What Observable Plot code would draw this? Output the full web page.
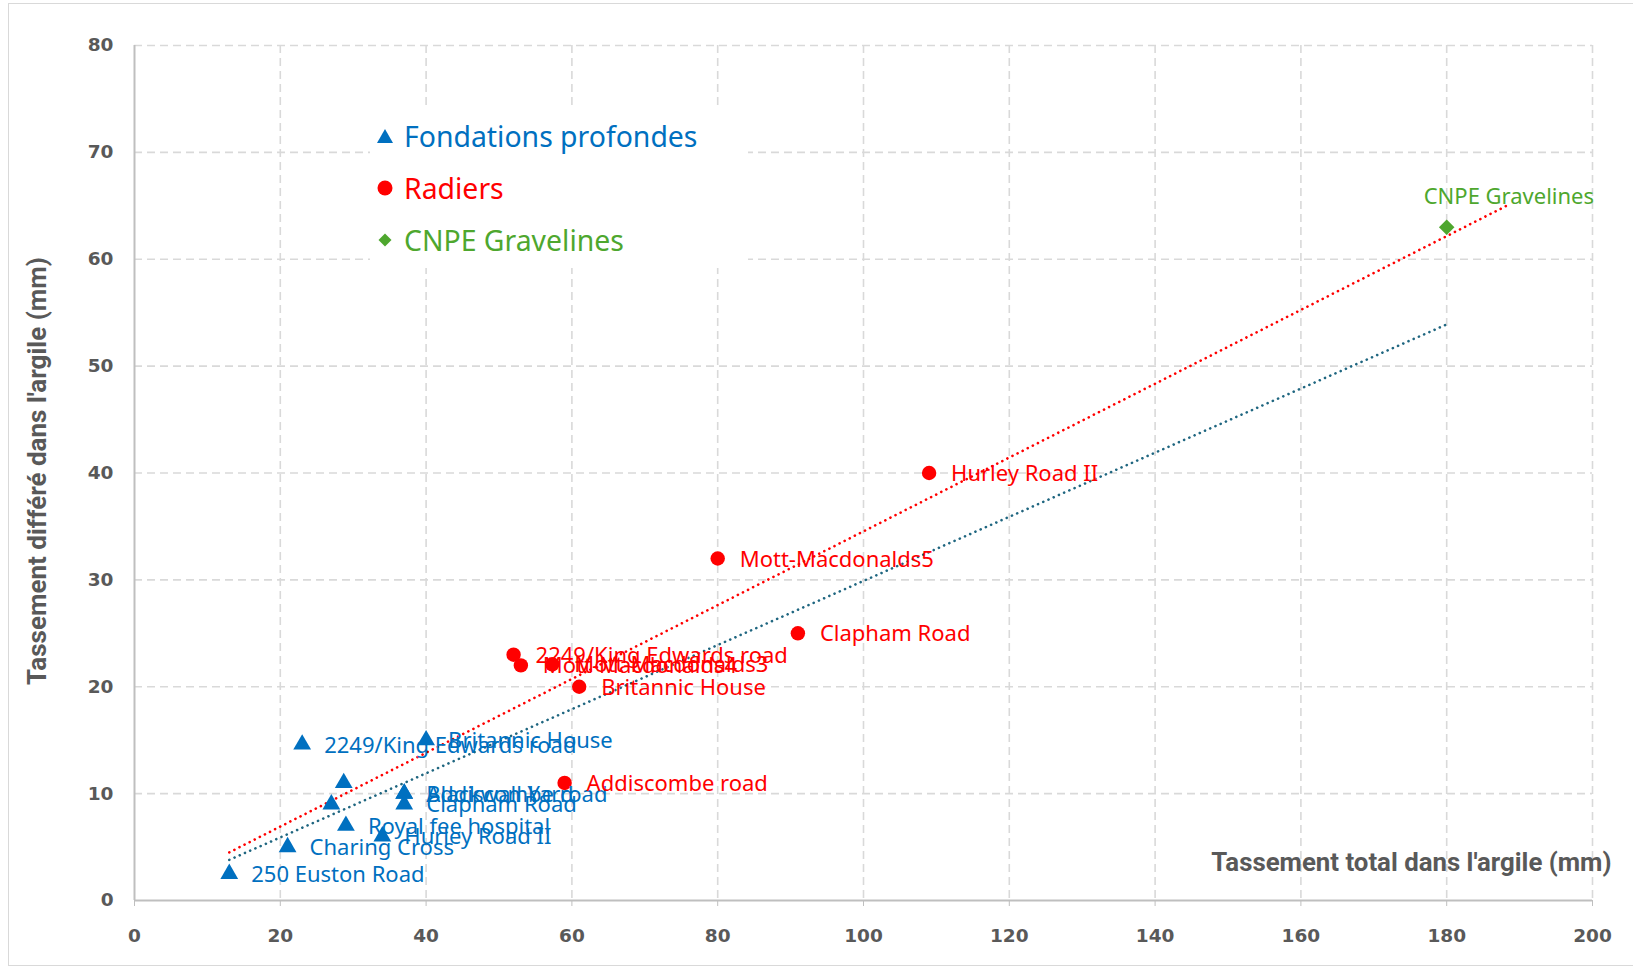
<!DOCTYPE html>
<html>
<head>
<meta charset="utf-8">
<script src="https://cdn.jsdelivr.net/npm/d3@7"></script>
<script src="https://cdn.jsdelivr.net/npm/@observablehq/plot@0.6"></script>
<style>
  body { margin: 0; background: #fff; }
  #wrap { position: relative; width: 1633px; height: 969px; overflow: hidden; background: #fff; }
  #frame { position: absolute; left: 8px; top: 3px; width: 1640px; height: 961px; border: 1px solid #d9d9d9; pointer-events: none; }
  #chart { position: absolute; left: 0; top: 0; }
  #legend { position: absolute; left: 370px; top: 110px; width: 378px; height: 158px; background: #fff;
            font-family: "Noto Sans", "Open Sans", sans-serif; font-size: 28.4px; }
  .row { position: absolute; left: 0; height: 40px; display: flex; align-items: center; white-space: nowrap; }
  .sym { width: 30px; display: flex; justify-content: center; align-items: center; }
</style>
</head>
<body>
<div id="wrap">
  <div id="chart"></div>
  <div id="legend"></div>
  <div id="frame"></div>
</div>
<script>
// ---- Data ----
const fondX = [13, 21, 29, 34, 27, 28.7, 37, 37, 37, 23, 40];
const fondY = [2.5, 5, 7, 6, 9, 11, 10, 10, 9, 14.6, 15];
const fondLabels = ["250 Euston Road", "Charing Cross", "Royal fee hospital", "Hurley Road II", "", "",
                    "Addiscombe road", "Blackwall Yard", "Clapham Road", "2249/King Edwards road", "Britannic House"];

const radX = [52, 53, 57.3, 61, 59, 80, 91, 109];
const radY = [23, 22, 22.1, 20, 11, 32, 25, 40];
const radLabels = ["2249/King Edwards road", "Mott-Macdonalds4", "Mott-Macdonalds3", "Britannic House",
                   "Addiscombe road", "Mott-Macdonalds5", "Clapham Road", "Hurley Road II"];

const gravX = [180];
const gravY = [63];
const gravLabels = ["CNPE Gravelines"];

const trendRadX = [13, 188.5];
const trendRadY = [4.5, 65.1];
const trendFondX = [13, 180];
const trendFondY = [3.8, 53.9];

const xTicks = [0, 20, 40, 60, 80, 100, 120, 140, 160, 180, 200];
const yTicks = [0, 10, 20, 30, 40, 50, 60, 70, 80];

const seriesNames = ["Fondations profondes", "Radiers", "CNPE Gravelines"];
const seriesColors = ["#0070C0", "#FF0000", "#4EA72E"];
const xTitle = "Tassement total dans l'argile (mm)";
const yTitle = "Tassement différé dans l'argile (mm)";

// ---- Tables ----
const fond = fondX.map((x, i) => ({x, y: fondY[i], label: fondLabels[i]}));
const rad = radX.map((x, i) => ({x, y: radY[i], label: radLabels[i]}));
const grav = gravX.map((x, i) => ({x, y: gravY[i], label: gravLabels[i]}));
const tRad = trendRadX.map((x, i) => ({x, y: trendRadY[i]}));
const tFond = trendFondX.map((x, i) => ({x, y: trendFondY[i]}));

const labelFont = '"Noto Sans", "Open Sans", sans-serif';
const axisFont = '"DejaVu Sans", sans-serif';
const titleFont = '"Liberation Sans Narrow", "Roboto", sans-serif';

const chart = Plot.plot({
  width: 1633,
  height: 969,
  marginLeft: 134,
  marginRight: 41,
  marginTop: 45,
  marginBottom: 69,
  x: {domain: [0, 200]},
  y: {domain: [0, 80]},
  style: {background: "transparent"},
  marks: [
    Plot.gridX(xTicks.filter(d => d > 0), {stroke: "#d9d9d9", strokeOpacity: 1, strokeWidth: 1.6, strokeDasharray: "8,5"}),
    Plot.gridY(yTicks.filter(d => d > 0), {stroke: "#d9d9d9", strokeOpacity: 1, strokeWidth: 1.6, strokeDasharray: "8,5"}),
    Plot.ruleY([0], {stroke: "#bfbfbf", strokeWidth: 2}),
    Plot.ruleX([0], {stroke: "#bfbfbf", strokeWidth: 2}),
    Plot.axisX({ticks: xTicks, tickSize: 6, tickPadding: 22, stroke: "#bfbfbf", fill: "#595959",
                fontSize: 18.5, fontWeight: "bold", fontFamily: axisFont, label: null}),
    Plot.axisY({ticks: yTicks, tickSize: 0, tickPadding: 21, fill: "#595959",
                fontSize: 18.5, fontWeight: "bold", fontFamily: axisFont, label: null}),
    Plot.line(tRad, {x: "x", y: "y", stroke: "#FF0000", strokeWidth: 2.6, strokeDasharray: "0.1,5.6", strokeLinecap: "round"}),
    Plot.line(tFond, {x: "x", y: "y", stroke: "#1F6680", strokeWidth: 2.6, strokeDasharray: "0.1,5.6", strokeLinecap: "round"}),
    Plot.dot(fond, {x: "x", y: "y", symbol: "triangle", r: 6.6, fill: seriesColors[0], stroke: "none"}),
    Plot.dot(rad, {x: "x", y: "y", symbol: "circle", r: 7.2, fill: seriesColors[1], stroke: "none"}),
    Plot.dot(grav, {x: "x", y: "y", symbol: "diamond2", r: 7, fill: seriesColors[2], stroke: "none"}),
    Plot.text(fond, {x: "x", y: "y", text: "label", textAnchor: "start", dx: 22, dy: 1, fill: seriesColors[0],
                     fontSize: 22, fontFamily: labelFont}),
    Plot.text(rad, {x: "x", y: "y", text: "label", textAnchor: "start", dx: 22, dy: 1, fill: seriesColors[1],
                    fontSize: 22, fontFamily: labelFont}),
    Plot.text(grav, {x: "x", y: "y", text: "label", textAnchor: "start", dx: -23, dy: -30, fill: seriesColors[2],
                     fontSize: 22, fontFamily: labelFont}),
    Plot.text([xTitle], {frameAnchor: "bottom-right", text: d => d, textAnchor: "end", lineAnchor: "middle",
                         dx: 19, dy: -38, fill: "#595959", fontSize: 25.8, fontWeight: "bold", fontFamily: titleFont}),
    Plot.text([yTitle], {frameAnchor: "left", text: d => d, rotate: -90, textAnchor: "middle", lineAnchor: "middle",
                         dx: -97, dy: -2, fill: "#595959", fontSize: 26, fontWeight: "bold", fontFamily: titleFont})
  ]
});
document.getElementById("chart").appendChild(chart);

// ---- Legend ----
const legend = document.getElementById("legend");
const symSvg = [
  c => `<svg width="18" height="16"><path d="M9 1 L17 15 L1 15 Z" fill="${c}"/></svg>`,
  c => `<svg width="18" height="18"><circle cx="9" cy="9" r="7.5" fill="${c}"/></svg>`,
  c => `<svg width="16" height="16"><path d="M8 1.5 L14.5 8 L8 14.5 L1.5 8 Z" fill="${c}"/></svg>`
];
const rowTops = [6, 58, 110];
seriesNames.forEach((name, i) => {
  const row = document.createElement("div");
  row.className = "row";
  row.style.top = rowTops[i] + "px";
  row.innerHTML = `<div class="sym">${symSvg[i](seriesColors[i])}</div><span style="color:${seriesColors[i]};margin-left:4px">${name}</span>`;
  legend.appendChild(row);
});
</script>
</body>
</html>
